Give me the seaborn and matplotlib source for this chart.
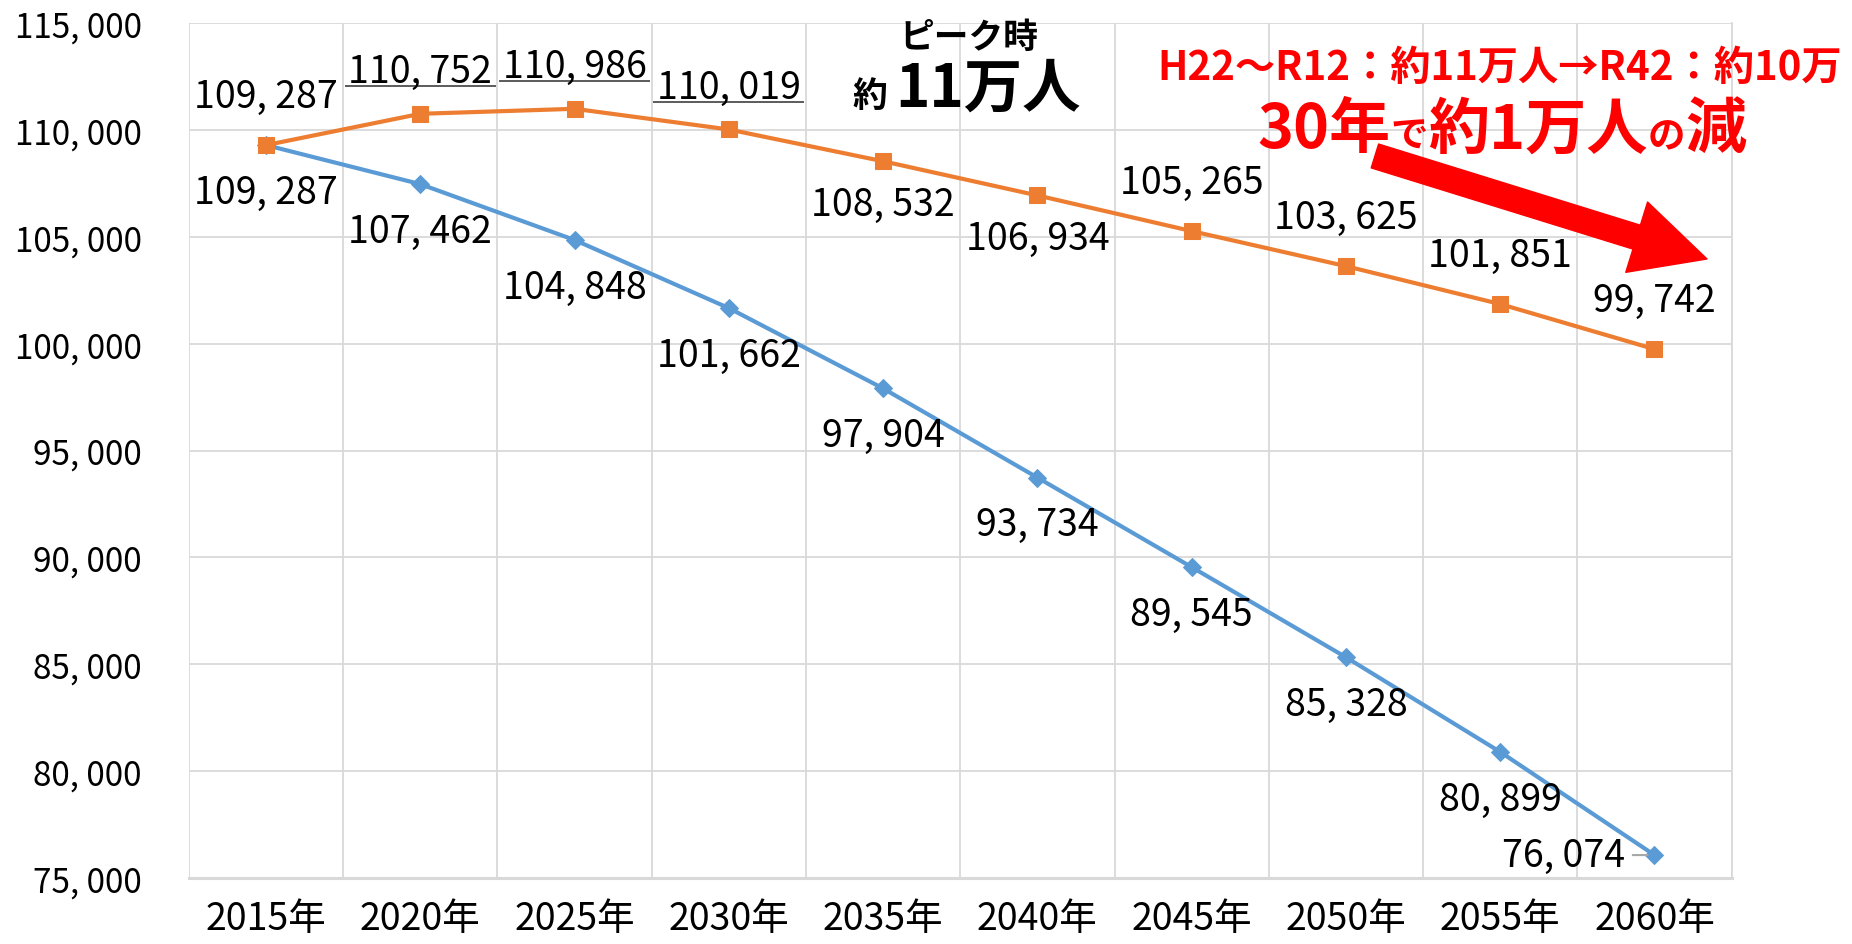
import matplotlib
matplotlib.use("Agg")
import matplotlib.pyplot as plt
from matplotlib.ticker import FuncFormatter, MultipleLocator
from matplotlib.offsetbox import TextArea, HPacker, AnnotationBbox
import numpy as np
import pandas as pd
import seaborn as sns

sns.set_style("white")
plt.rcParams['font.family'] = ['Noto Sans CJK JP', 'DejaVu Sans']
plt.rcParams['text.color'] = 'black'
plt.rcParams['xtick.color'] = 'black'
plt.rcParams['ytick.color'] = 'black'

# data
years = ["2015年", "2020年", "2025年", "2030年", "2035年", "2040年", "2045年", "2050年", "2055年", "2060年"]
blue_vals = [109287, 107462, 104848, 101662, 97904, 93734, 89545, 85328, 80899, 76074]
orange_vals = [109287, 110752, 110986, 110019, 108532, 106934, 105265, 103625, 101851, 99742]

# label placement (layout only)
orange_pos = ["above", "line", "line", "line", "below", "below", "above", "above", "above", "above"]
blue_pos = ["below"] * 9 + ["left"]

BLUE = "#5B9BD5"
ORANGE = "#ED7D31"
GRID = "#D9D9D9"

def fmt(v):
    return f"{v:,.0f}".replace(",", ", ")

df = pd.DataFrame({"year": years, "blue": blue_vals, "orange": orange_vals})

fig = plt.figure(figsize=(18.52, 9.45), dpi=100)
ax = fig.add_axes([0.102, 0.0698, 0.833, 0.9048])

sns.lineplot(data=df, x="year", y="blue", ax=ax, color=BLUE, lw=3.0,
             marker="D", markersize=9, markeredgecolor=BLUE, sort=False)
sns.lineplot(data=df, x="year", y="orange", ax=ax, color=ORANGE, lw=3.0,
             marker="s", markersize=12, markeredgecolor=ORANGE, sort=False)

ax.set_xlim(-0.5, len(years) - 0.5)
ax.set_ylim(75000, 115000)
ax.yaxis.set_major_locator(MultipleLocator(5000))
ax.yaxis.set_major_formatter(FuncFormatter(lambda v, p: fmt(v)))
ax.set_xticks(np.arange(len(years)))
ax.set_xticklabels(years)
ax.set_xticks(np.arange(len(years) + 1) - 0.5, minor=True)
ax.set_xlabel("")
ax.set_ylabel("")
ax.grid(axis="y", which="major", color=GRID, lw=1.3)
ax.grid(axis="x", which="minor", color=GRID, lw=1.3)
ax.grid(axis="x", which="major", visible=False)
ax.tick_params(axis="y", length=0, pad=34, labelsize=24)
ax.tick_params(axis="x", which="both", length=0, pad=15, labelsize=27)
for s in ["left", "top"]:
    ax.spines[s].set_visible(False)
ax.spines["right"].set_color(GRID)
ax.spines["right"].set_linewidth(1.3)
ax.spines["bottom"].set_color(GRID)
ax.spines["bottom"].set_linewidth(2.2)
ax.set_axisbelow(True)

lab_size = 27
for i, v in enumerate(orange_vals):
    p = orange_pos[i]
    if p == "line":
        ax.hlines(v + 1300, i - 0.49, i + 0.49, color="#404040", lw=1.2)
        ax.annotate(fmt(v), (i, v + 1300), xytext=(0, 3), textcoords="offset points",
                    ha="center", va="baseline", fontsize=lab_size)
    else:
        dy = 35 if p == "above" else -31
        ax.annotate(fmt(v), (i, v), xytext=(0, dy), textcoords="offset points",
                    ha="center", va="center", fontsize=lab_size)

for i, v in enumerate(blue_vals):
    if blue_pos[i] == "left":
        ax.annotate(fmt(v), (i, v), xytext=(-21, 0), textcoords="offset points",
                    ha="right", va="center", fontsize=lab_size,
                    arrowprops=dict(arrowstyle="-", color="#A6A6A6", lw=1.5,
                                    shrinkA=3, shrinkB=5))
    else:
        ax.annotate(fmt(v), (i, v), xytext=(0, -34), textcoords="offset points",
                    ha="center", va="center", fontsize=lab_size)

# peak note
fig.text(0.523, 0.960, "ピーク時", ha="center", va="center", fontsize=25, fontweight="bold")
peak = HPacker(children=[TextArea("約", textprops=dict(size=25, weight="bold")),
                         TextArea("11万人", textprops=dict(size=42, weight="bold"))],
               align="baseline", pad=0, sep=6)
fig.add_artist(AnnotationBbox(peak, (0.522, 0.905), xycoords="figure fraction",
                              frameon=False, box_alignment=(0.5, 0.5)))

# red note
fig.text(0.810, 0.928, "H22～R12：約11万人→R42：約10万", ha="center", va="center",
         fontsize=29, fontweight="bold", color="#FF0000")
red_parts = [("30年", 44), ("で", 27), ("約1万人", 44), ("の", 27), ("減", 44)]
red = HPacker(children=[TextArea(t, textprops=dict(size=s, weight="bold", color="#FF0000"))
                        for t, s in red_parts],
              align="baseline", pad=0, sep=0)
fig.add_artist(AnnotationBbox(red, (0.811, 0.862), xycoords="figure fraction",
                              frameon=False, box_alignment=(0.5, 0.5)))

ax.annotate("", xy=(0.9217, 0.7249), xytext=(0.7424, 0.8339), xycoords="figure fraction",
            textcoords="figure fraction",
            arrowprops=dict(arrowstyle="simple,head_length=5.3,head_width=5.3,tail_width=1.8",
                            color="#FF0000", shrinkA=0, shrinkB=0, mutation_scale=10))

fig.savefig("out.png", dpi=100)
